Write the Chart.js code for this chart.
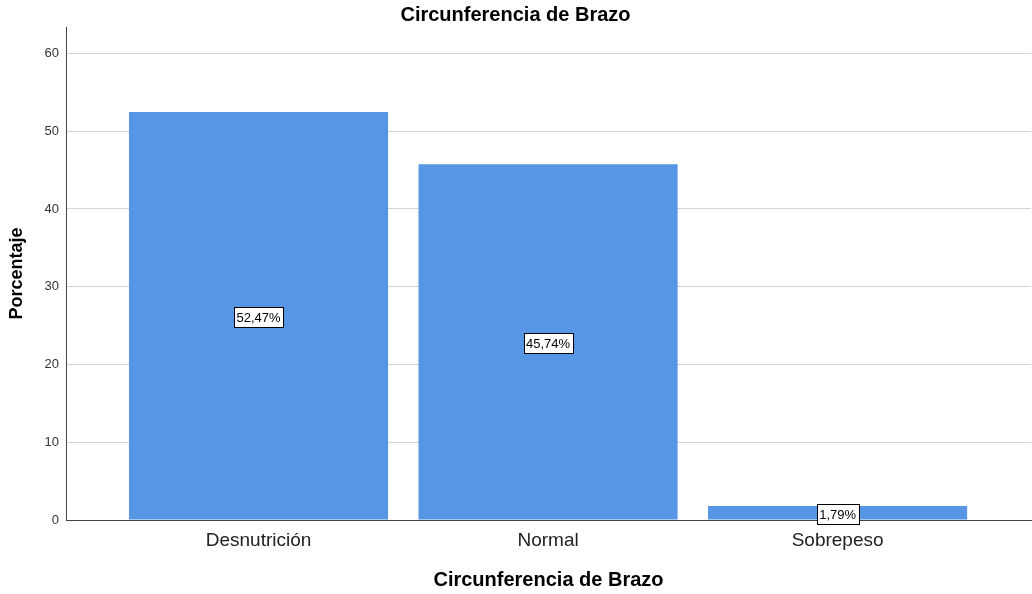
<!DOCTYPE html>
<html><head><meta charset="utf-8">
<script src="https://cdn.jsdelivr.net/npm/chart.js@4.4.1/dist/chart.umd.min.js"></script>
<style>html,body{margin:0;padding:0;background:#fff}#wrap{width:1032px;height:594px}</style>
</head><body><div id="wrap"><canvas id="c" width="1032" height="594"></canvas></div>
<script>
const categories = ['Desnutrición', 'Normal', 'Sobrepeso'];
const percentages = [52.47, 45.74, 1.79];
const valueLabels = ['52,47%', '45,74%', '1,79%'];
const yTicks = [0, 10, 20, 30, 40, 50, 60];
const chartTitle = 'Circunferencia de Brazo';
const xTitle = 'Circunferencia de Brazo';
const yTitle = 'Porcentaje';

const FONT = "'Liberation Sans', Arial, sans-serif";

const labelPlugin = {
  id: 'boxLabels',
  afterDatasetsDraw(chart) {
    const ctx = chart.ctx;
    const meta = chart.getDatasetMeta(0);
    const yScale = chart.scales.y;
    ctx.save();
    ctx.font = '13px ' + FONT;
    ctx.textAlign = 'center';
    ctx.textBaseline = 'middle';
    meta.data.forEach((bar, i) => {
      const cx = bar.x;
      const cy = yScale.getPixelForValue(percentages[i] / 2) + 1;
      const t = valueLabels[i];
      const w = Math.round(ctx.measureText(t).width + 5);
      const h = 20;
      const x0 = Math.round(cx - w / 2) + 0.5, y0 = Math.round(cy - h / 2) + 0.5;
      ctx.fillStyle = '#fff';
      ctx.fillRect(x0, y0, w, h);
      ctx.strokeStyle = '#000';
      ctx.lineWidth = 1;
      ctx.strokeRect(x0, y0, w, h);
      ctx.fillStyle = '#000';
      ctx.fillText(t, cx, cy + 1);
    });
    ctx.restore();
  }
};

new Chart(document.getElementById('c'), {
  type: 'bar',
  data: {
    datasets: [{
      data: percentages.map((v, i) => ({ x: i, y: v })),
      backgroundColor: 'rgb(86,150,228)',
      borderWidth: 0,
      categoryPercentage: 1,
      barPercentage: 0.895
    }]
  },
  options: {
    responsive: false,
    animation: false,
    devicePixelRatio: 1,
    layout: { padding: { left: 0, right: 1, top: 0, bottom: 0 } },
    plugins: {
      legend: { display: false },
      tooltip: { enabled: false },
      title: {
        display: true, text: chartTitle, color: '#000',
        font: { family: FONT, size: 20, weight: 'bold' },
        padding: { top: 3, bottom: 0 }
      }
    },
    scales: {
      x: {
        type: 'linear',
        offset: false,
        min: -0.665, max: 2.668,
        afterBuildTicks(s) { s.ticks = categories.map((c, i) => ({ value: i })); },
        afterFit(s) { s.height = 74; },
        ticks: {
          callback: (v) => categories[v] ?? '',
          color: '#222', font: { family: FONT, size: 19 }, padding: 9,
          maxRotation: 0, autoSkip: false
        },
        grid: { display: true, offset: false, color: 'rgba(0,0,0,0)', drawTicks: false },
        border: { display: true, color: '#444', width: 1 },
        title: {
          display: true, text: xTitle, color: '#000',
          font: { family: FONT, size: 20, weight: 'bold' },
          padding: { top: 0, bottom: 2 }
        }
      },
      y: {
        min: 0, max: 63.4,
        afterBuildTicks(s) { s.ticks = yTicks.map(v => ({ value: v })); },
        afterFit(s) { s.width = 66; },
        ticks: { color: '#333', font: { family: FONT, size: 13 }, padding: 7 },
        grid: { color: (c) => c.tick && c.tick.value === 0 ? 'rgba(0,0,0,0)' : '#d4d4d4', drawTicks: false, lineWidth: 1 },
        border: { display: true, color: '#444', width: 1 },
        title: {
          display: true, text: yTitle, color: '#000',
          font: { family: FONT, size: 18, weight: 'bold' },
          padding: { top: 6, bottom: 0 }
        }
      }
    }
  },
  plugins: [labelPlugin]
});
</script></body></html>
